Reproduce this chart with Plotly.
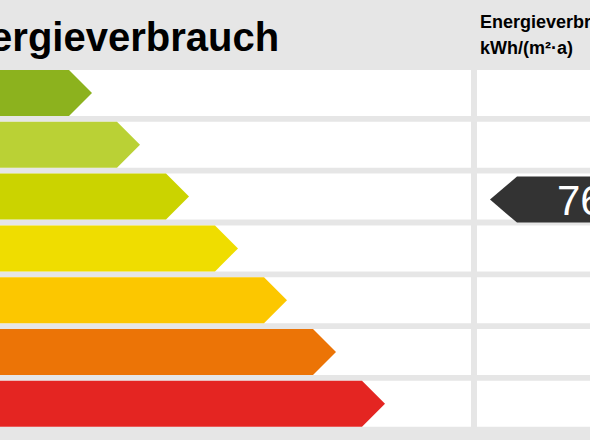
import plotly.graph_objects as go

# energy classes A+ .. F (visible part), arrow lengths, colours
classes = ['A+', 'A', 'B', 'C', 'D', 'E', 'F']
arrow_len = [92, 140, 189, 238, 287, 336, 385]
colors = ['#8cb21e', '#bad135', '#cbd300', '#efdd00', '#fcc700',
          '#ec7406', '#e42522']
value = 76
value_class = 2
title = 'Energieverbrauch'
unit_lines = ['Energieverbrauch', 'kWh/(m²·a)']

W, H = 590, 440
row_top, row_step, row_h = 70, 51.8, 46
tip = 23

fig = go.Figure()
shapes = []
for i, (c, ln, col) in enumerate(zip(classes, arrow_len, colors)):
    y0 = row_top + i * row_step
    y1 = y0 + row_h
    ym = (y0 + y1) / 2
    # white rows
    shapes.append(dict(type='rect', x0=0, x1=471, y0=y0, y1=y1,
                       fillcolor='white', line_width=0, layer='below'))
    shapes.append(dict(type='rect', x0=477, x1=W, y0=y0, y1=y1,
                       fillcolor='white', line_width=0, layer='below'))
    fig.add_trace(go.Scatter(x=[-5, ln - tip, ln, ln - tip, -5, -5],
                             y=[y0, y0, ym, y1, y1, y0],
                             fill='toself', fillcolor=col, mode='lines',
                             line_width=0, name=c, hoverinfo='name'))

# value marker
y0 = row_top + value_class * row_step + 3
y1 = y0 + row_h
ym = (y0 + y1) / 2
fig.add_trace(go.Scatter(x=[W + 5, 517, 490, 517, W + 5, W + 5],
                         y=[y0, y0, ym, y1, y1, y0],
                         fill='toself', fillcolor='#333333', mode='lines',
                         line_width=0, hoverinfo='skip'))
fig.add_annotation(x=555, y=ym + 1, text=str(value), showarrow=False,
                   xanchor='left', yanchor='middle',
                   font=dict(family='Liberation Sans', size=42, color='white'))

fig.add_annotation(x=281, y=37, text='<b>%s</b>' % title, showarrow=False,
                   xanchor='right', yanchor='middle',
                   font=dict(family='Liberation Sans', size=40, color='black'))
fig.add_annotation(x=478, y=22, text='<b>%s</b>' % unit_lines[0],
                   showarrow=False, xanchor='left', yanchor='middle',
                   font=dict(family='Liberation Sans', size=18, color='black'))
fig.add_annotation(x=478, y=48, text='<b>%s</b>' % unit_lines[1],
                   showarrow=False, xanchor='left', yanchor='middle',
                   font=dict(family='Liberation Sans', size=18, color='black'))

fig.update_layout(width=W, height=H, margin=dict(l=0, r=0, t=0, b=0),
                  paper_bgcolor='#e6e6e6', plot_bgcolor='#e6e6e6',
                  showlegend=False, shapes=shapes,
                  xaxis=dict(range=[0, W], visible=False, fixedrange=True),
                  yaxis=dict(range=[H, 0], visible=False, fixedrange=True))
fig.write_html('out.html', config={'displayModeBar': False})

# drop the default page margin so the chart fills the window
with open('out.html', encoding='utf-8') as f:
    page = f.read()
page = page.replace('<body>', '<body style="margin:0;overflow:hidden">', 1)
with open('out.html', 'w', encoding='utf-8') as f:
    f.write(page)
